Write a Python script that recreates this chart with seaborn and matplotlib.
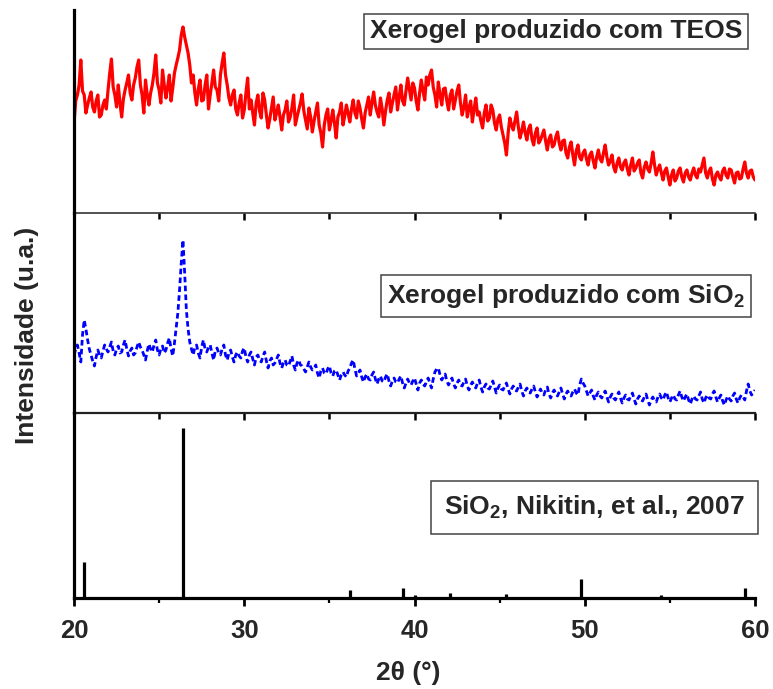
import numpy as np
import pandas as pd
import matplotlib
matplotlib.use("Agg")
import matplotlib.pyplot as plt
from matplotlib.ticker import MultipleLocator
import seaborn as sns

# ---------------- data ----------------
two_theta = np.round(np.arange(20.0, 60.0001, 0.1), 1)   # scan grid (deg)

teos_intensity = [
    90, 112, 118, 128, 153, 122, 118, 100, 108, 115, 121, 106, 101, 112, 118, 96, 98, 108, 113, 104,
    123, 140, 154, 126, 118, 106, 128, 110, 96, 114, 123, 130, 138, 120, 113, 128, 135, 146, 153, 128,
    118, 100, 133, 118, 108, 120, 128, 140, 158, 130, 123, 110, 143, 128, 115, 126, 138, 112, 125, 140,
    148, 155, 163, 178, 186, 176, 168, 160, 148, 130, 138, 120, 108, 124, 133, 112, 113, 128, 138, 104,
    118, 130, 143, 126, 123, 112, 138, 150, 160, 138, 128, 115, 108, 118, 123, 104, 98, 110, 118, 95,
    103, 120, 135, 104, 113, 100, 88, 110, 118, 102, 95, 120, 113, 98, 85, 94, 105, 116, 93, 100,
    108, 96, 83, 98, 103, 112, 91, 96, 105, 118, 88, 96, 103, 110, 119, 102, 93, 84, 105, 96,
    81, 92, 101, 110, 88, 80, 66, 88, 98, 104, 83, 92, 103, 90, 75, 96, 101, 110, 88, 97,
    108, 100, 91, 104, 113, 100, 95, 112, 105, 94, 85, 100, 108, 116, 98, 110, 121, 108, 101, 96,
    115, 104, 88, 102, 113, 120, 101, 110, 118, 126, 103, 116, 128, 112, 108, 122, 135, 124, 113, 130,
    125, 112, 103, 120, 133, 122, 113, 136, 128, 138, 143, 126, 118, 106, 131, 118, 108, 124, 125, 112,
    103, 118, 123, 104, 113, 122, 128, 110, 98, 106, 118, 96, 105, 112, 91, 104, 115, 98, 101, 92,
    85, 100, 108, 92, 95, 108, 103, 90, 83, 94, 98, 86, 78, 70, 58, 80, 95, 88, 83, 92,
    101, 86, 75, 82, 91, 80, 73, 84, 88, 74, 68, 80, 85, 70, 73, 78, 83, 72, 63, 74,
    78, 66, 68, 76, 81, 70, 63, 72, 73, 60, 55, 66, 71, 58, 48, 62, 68, 56, 53, 60,
    63, 54, 48, 58, 61, 52, 45, 56, 63, 54, 51, 60, 68, 56, 48, 52, 58, 46, 41, 50,
    55, 46, 43, 50, 53, 44, 38, 48, 55, 42, 45, 50, 53, 40, 35, 46, 51, 44, 41, 50,
    61, 48, 38, 44, 48, 40, 33, 42, 45, 36, 28, 38, 43, 32, 35, 42, 45, 36, 31, 40,
    43, 36, 33, 40, 45, 38, 35, 44, 41, 48, 55, 40, 35, 42, 45, 34, 28, 38, 41, 36,
    33, 42, 45, 38, 35, 44, 43, 36, 30, 40, 41, 34, 35, 44, 51, 40, 35, 42, 43, 36,
    33,
]

sio2_intensity = [
    58, 64, 68, 60, 51, 78, 93, 84, 73, 64, 58, 52, 47, 56, 63, 58, 55, 62, 68, 64,
    61, 66, 71, 62, 58, 64, 67, 60, 61, 68, 73, 64, 57, 62, 65, 58, 60, 66, 71, 66,
    63, 58, 53, 62, 69, 64, 61, 68, 73, 63, 58, 64, 67, 60, 63, 70, 75, 64, 57, 70,
    85, 100, 123, 150, 173, 140, 103, 84, 71, 64, 58, 66, 68, 60, 55, 66, 73, 64, 61, 66,
    68, 60, 53, 62, 65, 60, 58, 64, 68, 58, 53, 60, 63, 56, 51, 58, 61, 57, 55, 62,
    65, 56, 51, 58, 61, 54, 48, 56, 58, 53, 51, 57, 61, 52, 45, 52, 55, 48, 50, 54,
    58, 50, 45, 50, 53, 48, 47, 52, 57, 48, 43, 50, 53, 48, 47, 44, 41, 46, 51, 46,
    43, 44, 48, 40, 35, 42, 45, 40, 39, 44, 47, 40, 37, 42, 43, 38, 33, 38, 41, 38,
    36, 42, 45, 50, 53, 44, 37, 40, 43, 36, 31, 36, 39, 34, 33, 38, 41, 34, 29, 34,
    37, 32, 31, 36, 39, 32, 27, 32, 35, 31, 30, 34, 37, 30, 25, 30, 34, 30, 28, 32,
    35, 29, 23, 30, 33, 29, 27, 31, 35, 30, 25, 34, 41, 44, 45, 38, 33, 36, 39, 32,
    28, 32, 35, 29, 25, 30, 33, 28, 27, 31, 34, 27, 23, 28, 31, 27, 25, 30, 33, 26,
    21, 26, 29, 25, 24, 28, 32, 26, 20, 25, 28, 24, 23, 27, 30, 24, 19, 24, 27, 23,
    22, 26, 29, 22, 17, 22, 25, 21, 20, 24, 27, 21, 16, 20, 24, 20, 18, 23, 26, 19,
    15, 20, 23, 19, 17, 21, 25, 19, 14, 19, 22, 18, 17, 21, 24, 20, 18, 28, 34, 30,
    27, 22, 17, 20, 23, 17, 13, 18, 21, 17, 15, 19, 22, 16, 11, 16, 19, 15, 13, 17,
    21, 15, 10, 15, 18, 14, 13, 17, 20, 14, 9, 14, 17, 13, 12, 16, 19, 13, 8, 13,
    16, 12, 11, 16, 19, 15, 13, 18, 21, 15, 11, 15, 18, 14, 13, 18, 22, 16, 12, 16,
    19, 13, 9, 14, 17, 14, 13, 17, 21, 14, 10, 15, 18, 15, 14, 19, 22, 16, 11, 15,
    18, 12, 8, 13, 17, 14, 12, 17, 20, 14, 10, 15, 18, 16, 13, 22, 29, 22, 18, 20,
    23,
]

ref_positions = [20.6, 26.4, 36.2, 39.3, 40.0, 42.1, 45.4, 49.8, 54.5, 55.2, 59.4]
ref_heights = [21, 100, 4.6, 5.6, 1.6, 3.2, 2.2, 11.1, 1.6, 0.4, 6.0]

label_teos = "Xerogel produzido com TEOS"
label_sio2 = "Xerogel produzido com SiO$_2$"
label_ref = "SiO$_2$, Nikitin, et al., 2007"
xlabel = "2\u03b8 (\u00b0)"
ylabel = "Intensidade (u.a.)"
xticks = [20, 30, 40, 50, 60]

# ---------------- style ----------------
sns.set_style("ticks")
plt.rcParams["font.family"] = ["Liberation Sans", "DejaVu Sans"]
plt.rcParams["font.weight"] = "bold"
plt.rcParams["mathtext.fontset"] = "custom"
plt.rcParams["mathtext.rm"] = "Liberation Sans:bold"
plt.rcParams["mathtext.it"] = "Liberation Sans:bold"
plt.rcParams["mathtext.bf"] = "Liberation Sans:bold"

df_teos = pd.DataFrame({"x": two_theta, "y": teos_intensity})
df_sio2 = pd.DataFrame({"x": two_theta, "y": sio2_intensity})

W, H = 773, 689
fig = plt.figure(figsize=(W / 100, H / 100), dpi=100)

def frac_axes(top_px, bot_px, left_px=74, right_px=755):
    return fig.add_axes([left_px / W, 1 - bot_px / H,
                         (right_px - left_px) / W, (bot_px - top_px) / H])

ax1 = frac_axes(10, 213)
ax2 = frac_axes(213, 413)
ax3 = frac_axes(413, 598)

sns.lineplot(data=df_teos, x="x", y="y", ax=ax1, color="#ff0000", linewidth=2.3)
sns.lineplot(data=df_sio2, x="x", y="y", ax=ax2, color="#0000ff", linewidth=2.0,
             linestyle=(0, (2.0, 1.2)))
ax3.vlines(ref_positions, 0, ref_heights, colors="black", linewidth=2.3)

ax1.set_ylim(0, 203)
ax2.set_ylim(0, 200)
ax3.set_ylim(0, 109)

for ax in (ax1, ax2, ax3):
    ax.set_xlim(20, 60)
    ax.set_yticks([])
    ax.set_xlabel("")
    ax.set_ylabel("")
    ax.spines["right"].set_visible(False)
    ax.spines["top"].set_visible(False)
    ax.spines["left"].set_linewidth(2.3)
    ax.spines["left"].set_color("black")
    ax.xaxis.set_major_locator(MultipleLocator(10))
    ax.xaxis.set_minor_locator(MultipleLocator(5))
    ax.patch.set_alpha(0)

ax1.spines["bottom"].set_linewidth(1.2)
ax1.spines["bottom"].set_color("#333333")

ax2.spines["bottom"].set_linewidth(1.6)
ax2.spines["bottom"].set_color("#222222")

# ticks pointing down from each separator line
for ax in (ax1, ax2):
    ax.tick_params(axis="x", which="both", bottom=True, labelbottom=False,
                   direction="out", width=1.8, color="black")
    ax.tick_params(axis="x", which="major", length=5)
    ax.tick_params(axis="x", which="minor", length=4)

ax3.spines["bottom"].set_linewidth(2.3)
ax3.spines["bottom"].set_color("black")
ax3.set_xticks(xticks)
ax3.tick_params(axis="x", which="major", direction="out", length=6, width=2,
                labelsize=18.5, pad=9, color="black")
ax3.tick_params(axis="x", which="minor", direction="out", length=3.5, width=1.6,
                color="black")
for t in ax3.get_xticklabels():
    t.set_fontweight("bold")

FS = 19
ax1.text(0.981, 0.895, label_teos, transform=ax1.transAxes, ha="right", va="center",
         fontsize=FS, fontweight="bold",
         bbox=dict(boxstyle="square,pad=0.22", facecolor="white", edgecolor="#444444",
                   linewidth=1.1))
ax2.text(0.985, 0.585, label_sio2, transform=ax2.transAxes, ha="right", va="center",
         fontsize=FS, fontweight="bold",
         bbox=dict(boxstyle="square,pad=0.25", facecolor="white", edgecolor="#444444",
                   linewidth=1.1))
ax3.text(0.985, 0.49, label_ref, transform=ax3.transAxes, ha="right", va="center",
         fontsize=FS, fontweight="bold",
         bbox=dict(boxstyle="square,pad=0.5", facecolor="white", edgecolor="#444444",
                   linewidth=1.1))

fig.text(27 / W, 1 - 335 / H, ylabel, rotation=90, ha="center", va="center",
         fontsize=FS, fontweight="bold")
fig.text(408 / W, 1 - 673 / H, xlabel, ha="center", va="center",
         fontsize=FS, fontweight="bold")

fig.savefig("out.png", dpi=100)
